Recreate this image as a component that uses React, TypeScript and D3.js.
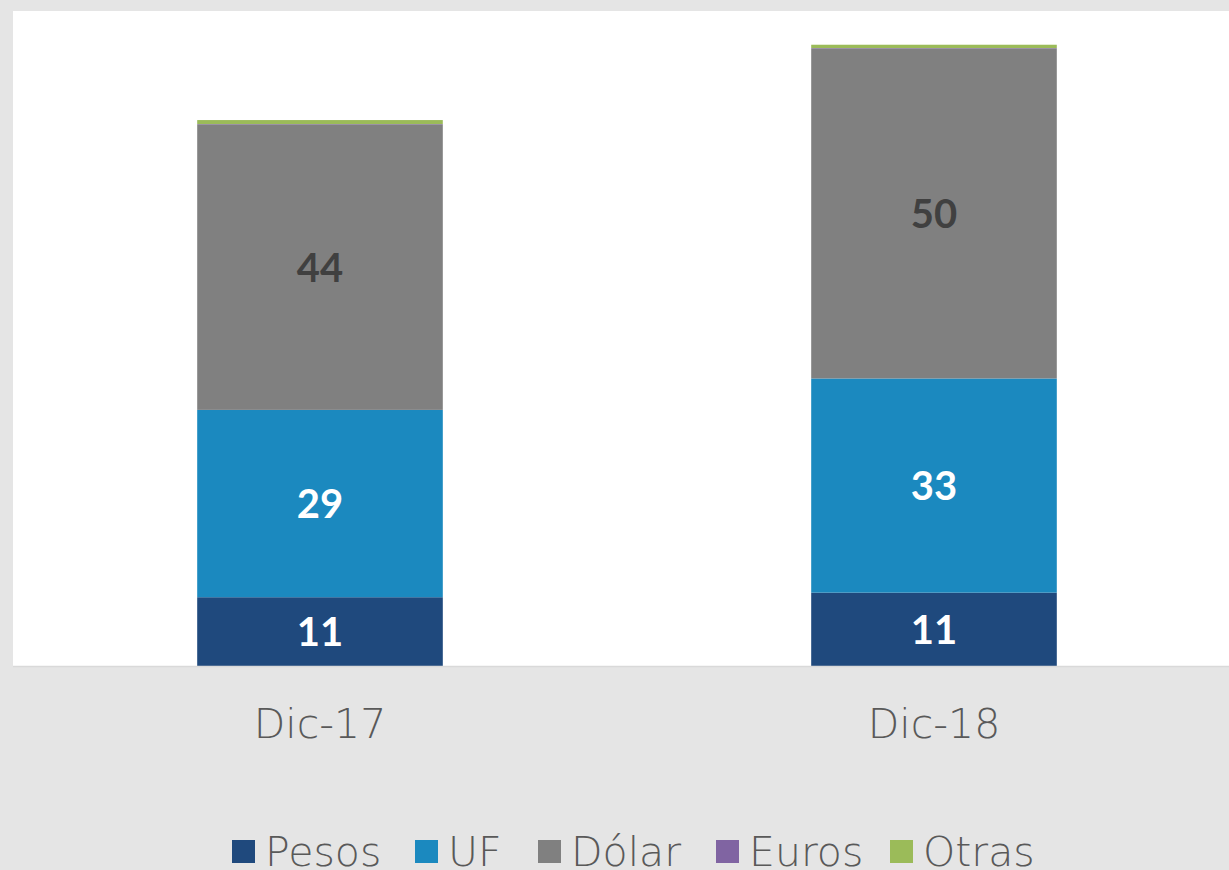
import { useEffect, useRef } from "react";
import * as d3 from "d3";

const categories = ["Dic-17", "Dic-18"];
const seriesNames = ["Pesos", "UF", "Dólar", "Euros", "Otras"];
const pesos = [10.5, 11.2];
const uf = [28.6, 32.7];
const dolar = [43.6, 50.4];
const euros = [0.05, 0.05];
const otras = [0.6, 0.5];
const labelsShown = ["Pesos", "UF", "Dólar"];

const colors = ["#1F497D", "#1B89BF", "#808080", "#8064A2", "#9BBB59"];
const labelColors = ["#FFFFFF", "#FFFFFF", "#404040"];

const W = 1229;
const H = 870;

const App = () => {
  const svgRef = useRef<SVGSVGElement>(null);

  useEffect(() => {
    const svg = d3.select(svgRef.current);
    svg.selectAll("*").remove();

    const margin = { top: 11, left: 13, right: -12, bottom: 204 };
    const width = W - margin.left - margin.right;
    const height = H - margin.top - margin.bottom;

    svg.append("rect").attr("width", W).attr("height", H).attr("fill", "#E5E5E5");

    const g = svg.append("g").attr("transform", `translate(${margin.left},${margin.top})`);
    g.append("rect").attr("width", width).attr("height", height).attr("fill", "#FFFFFF");

    const rows = categories.map((c, i) => ({
      cat: c,
      Pesos: pesos[i],
      UF: uf[i],
      "Dólar": dolar[i],
      Euros: euros[i],
      Otras: otras[i],
    }));

    const stacked = d3.stack<any>().keys(seriesNames)(rows);

    const x = d3.scaleBand().domain(categories).range([0, width]).paddingInner(0.6).paddingOuter(0.3);
    const y = d3.scaleLinear().domain([0, 100]).range([height, 0]);

    stacked.forEach((layer, si) => {
      g.append("g")
        .selectAll("rect")
        .data(layer)
        .enter()
        .append("rect")
        .attr("x", (d: any) => x(d.data.cat)!)
        .attr("width", x.bandwidth())
        .attr("y", (d) => y(d[1]))
        .attr("height", (d) => y(d[0]) - y(d[1]))
        .attr("fill", colors[si]);

      if (labelsShown.includes(layer.key)) {
        g.append("g")
          .selectAll("text")
          .data(layer)
          .enter()
          .append("text")
          .attr("x", (d: any) => x(d.data.cat)! + x.bandwidth() / 2)
          .attr("y", (d) => (y(d[0]) + y(d[1])) / 2)
          .attr("dy", "0.36em")
          .attr("text-anchor", "middle")
          .style("font-family", "Lato, 'Open Sans', sans-serif")
          .style("font-weight", "bold")
          .style("font-size", "40px")
          .attr("fill", labelColors[si])
          .text((d) => Math.round(d[1] - d[0]));
      }
    });

    // baseline
    g.append("line")
      .attr("x1", 0)
      .attr("x2", width)
      .attr("y1", height + 0.5)
      .attr("y2", height + 0.5)
      .attr("stroke", "#D9D9D9")
      .attr("stroke-width", 1.5);

    // category labels
    g.append("g")
      .selectAll("text")
      .data(categories)
      .enter()
      .append("text")
      .attr("x", (d) => x(d)! + x.bandwidth() / 2)
      .attr("y", height + 72)
      .attr("text-anchor", "middle")
      .style("font-family", "'DejaVu Sans', sans-serif")
      .style("font-weight", 200)
      .style("font-size", "41px")
      .attr("fill", "#595959")
      .text((d) => d);

    // legend
    const legendX = [232, 415, 538, 716, 890];
    const lg = svg.append("g");
    seriesNames.forEach((name, i) => {
      lg.append("rect")
        .attr("x", legendX[i])
        .attr("y", 840)
        .attr("width", 23)
        .attr("height", 23)
        .attr("fill", colors[i]);
      lg.append("text")
        .attr("x", legendX[i] + 33)
        .attr("y", 866)
        .style("font-family", "'DejaVu Sans', sans-serif")
        .style("font-weight", 200)
        .style("font-size", "41px")
        .attr("fill", "#595959")
        .text(name);
    });
  }, []);

  return (
    <svg
      ref={svgRef}
      width={W}
      height={H}
      style={{ position: "absolute", top: 0, left: 0, display: "block" }}
    />
  );
};

export default App;
